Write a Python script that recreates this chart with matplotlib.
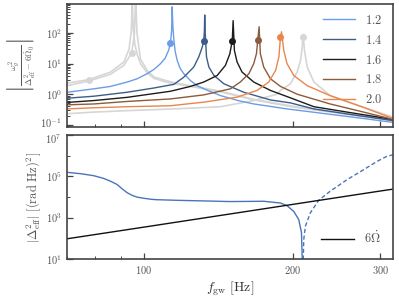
import numpy as np
import matplotlib
matplotlib.use("Agg")
import matplotlib.pyplot as plt
from matplotlib.transforms import ScaledTranslation

plt.rcParams['font.family'] = 'serif'
plt.rcParams['font.serif'] = ['cmr10', 'DejaVu Serif']
plt.rcParams['mathtext.fontset'] = 'cm'
plt.rcParams['axes.formatter.use_mathtext'] = True

# ---- top panel: resonance curves ----
labels = ['1.2', '1.4', '1.6', '1.8', '2.0']
colors = ['#6b9de6', '#3d5d88', '#1c1c1c', '#8c5a3c', '#e8864c']

f12 = [70.2, 79.4, 85.8, 92.7, 97.1, 101.7, 105, 108.2, 110.5, 112.3, 113.3, 113.9, 114.2,
       114.6, 115.1, 115.8, 116.9, 118.5, 120.5, 124.3, 128.2, 135, 142.9, 155, 166.7, 180,
       194.5, 215, 237.6, 270, 318]
v12 = [1.16, 1.5, 1.8, 2.5, 3.2, 4.7, 6.5, 10, 15, 27, 46, 120, 720,
       150, 60, 25, 12.7, 7, 4.7, 2.8, 1.9, 1.3, 0.9, 0.62, 0.48, 0.4,
       0.33, 0.27, 0.22, 0.17, 0.12]

f14 = [70.2, 79.4, 92.7, 105, 115.1, 120.5, 126.2, 129.2, 131.3, 132.2, 132.6, 132.8,
       133.1, 133.9, 135.4, 138.6, 145.1, 159.1, 180.1, 197.6, 220.4, 260, 318]
v14 = [0.74, 0.86, 1.16, 1.6, 2.1, 3.6, 7.7, 16.6, 35, 54, 120, 390,
       100, 16.6, 7.7, 4.1, 2.2, 1.16, 0.65, 0.52, 0.33, 0.22, 0.137]

f16 = [70.2, 79.4, 92.7, 113.3, 124.3, 132.2, 140.7, 146.2, 149.2, 150.9, 151.5,
       152.4, 154.3, 157.9, 166.7, 180.1, 196, 220.4, 257, 318]
v16 = [0.54, 0.62, 0.79, 1.25, 1.8, 2.5, 4.1, 8.8, 21, 56, 255,
       27, 11.3, 5.3, 2.5, 1.33, 0.8, 0.39, 0.26, 0.15]

f18 = [70.2, 79.4, 92.7, 113.3, 132.2, 149.6, 156.6, 163, 166.7, 168.8, 169.8, 170.9,
       171.9, 174.6, 180.1, 188.7, 203.9, 237.6, 277.5, 318]
v18 = [0.45, 0.48, 0.58, 0.7, 0.95, 1.5, 2.5, 4.7, 10, 21, 58, 161,
       21, 7.7, 3.2, 1.8, 1.0, 0.48, 0.26, 0.15]

f20 = [70.2, 79.4, 92.7, 113.3, 132.2, 154.3, 169.3, 178.7, 184.5, 187.3, 188.7, 189.6,
       191.6, 194.5, 200.7, 213.6, 237.6, 277.5, 318]
v20 = [0.33, 0.36, 0.39, 0.42, 0.55, 0.8, 1.33, 2.5, 6, 16.6, 72, 110,
       27.5, 10, 4.1, 1.9, 0.9, 0.37, 0.16]

# grey curves (not in legend)
fga = [70.2, 77.6, 85.8, 91.3, 93.5, 94.5, 94.9, 95.3, 96, 97.1, 98.6, 101.7, 104.9,
       110, 115.1, 124.3, 142.9, 166.7, 200.7, 257, 318]
vga = [2.3, 3.0, 5.3, 11.3, 30, 120, 1500, 150, 45, 20, 10, 5, 3.3,
       2.6, 2.2, 1.8, 1.2, 0.65, 0.38, 0.22, 0.14]
fgb = [70.2, 77.6, 85.8, 91.3, 94.6, 95.8, 96.4, 97, 98.6, 101.7, 104.9, 110, 115.1,
       124.3, 142.9, 166.7, 200.7, 257, 318]
vgb = [1.9, 2.7, 4.5, 8.8, 22, 80, 1500, 100, 14, 6, 3.7, 2.9, 2.4,
       1.9, 1.25, 0.68, 0.4, 0.23, 0.14]
fgc = [70.2, 79.4, 92.7, 115.1, 142.9, 166.7, 185.8, 188.7, 197.6, 203.9, 207.1, 208.7,
       209.3, 209.6, 210.9, 213.6, 220.4, 237.6, 277.5, 318]
vgc = [0.23, 0.26, 0.29, 0.33, 0.39, 0.62, 1.0, 1.33, 2.2, 5.3, 12.8, 35,
       75, 90, 27.5, 7.7, 2.5, 0.9, 0.37, 0.18]

# markers on curves
dot_f = [113.3, 132.2, 150.9, 169.8, 188.7]
dot_v = [46, 54, 56, 58, 72]
grey_dot_f = [77.6, 94.6, 209.3]
grey_dot_v = [3.0, 22, 75]

# ---- bottom panel ----
fdel = [70.2, 75, 79.4, 83, 85.8, 88.5, 90.5, 92.7, 95, 97.1, 100, 103.3, 106, 116.9,
        149.6, 174.6, 188.7, 194.5, 200.7, 205.4, 208, 209.3]
vdel = [1.56e5, 1.32e5, 1.07e5, 8.0e4, 5.8e4, 4.0e4, 2.5e4, 1.6e4, 1.18e4, 9.8e3, 8.7e3,
        7.8e3, 7.4e3, 6.9e3, 6.0e3, 6.2e3, 5.1e3, 3.8e3, 2.0e3, 800, 190, 1]
fdel_neg = [209.3, 210.2, 211.8, 216.7, 225.3, 237.6, 257, 277.5, 295, 309, 319]
vdel_neg = [1, 87, 380, 1.7e3, 6.9e3, 1.9e4, 6.9e4, 2.1e5, 5.2e5, 9.3e5, 1.12e6]

fom = [70, 100, 200, 300, 320]
vom = [94, 345, 4400, 19500, 24500]

grey = '#d6d6d6'
tick_col = '#555555'

fig = plt.figure(figsize=(3.99, 2.98), dpi=100)
ax1 = fig.add_axes([0.167, 0.574, 0.818, 0.413])
ax2 = fig.add_axes([0.167, 0.131, 0.818, 0.416])

for fx, vx in [(fga, vga), (fgb, vgb), (fgc, vgc)]:
    ax1.plot(fx, vx, color=grey, lw=1.2)
ax1.plot(grey_dot_f, grey_dot_v, 'o', color=grey, ms=4)

curves = [(f12, v12), (f14, v14), (f16, v16), (f18, v18), (f20, v20)]
for (fx, vx), c, lab in zip(curves, colors, labels):
    ax1.plot(fx, vx, color=c, lw=1.0, label='$' + lab + '$')
for fd, vd, c in zip(dot_f, dot_v, colors):
    ax1.plot(fd, vd, 'o', color=c, ms=4)

ax2.plot(fdel, vdel, color='#4a74ba', lw=1.0)
ax2.plot(fdel_neg, vdel_neg, color='#4a74ba', lw=1.0, ls='--', dashes=(3, 1.8))
ax2.plot(fom, vom, color='#111111', lw=1.0, label=r'$6\dot{\Omega}$')

for ax in (ax1, ax2):
    ax.set_xscale('log')
    ax.set_yscale('log')
    ax.set_xlim(70, 318)
    ax.set_xticks([100, 200, 300])
    ax.set_xticks([70, 80, 90], minor=True)
    ax.tick_params(which='both', direction='in', colors='#444444', labelcolor=tick_col,
                   labelsize=7.5)
    ax.tick_params(which='major', length=4, width=0.9)
    ax.tick_params(which='minor', length=2, width=0.7)
    for s in ax.spines.values():
        s.set_color('#444444')
        s.set_linewidth(1.2)

ax1.set_ylim(0.085, 900)
ax1.set_yticks([0.1, 1, 10, 100])
ax1.set_yticklabels([r'$10^{-1}$', r'$10^{0}$', r'$10^{1}$', r'$10^{2}$'])
ax1.set_xticklabels([])
ax1.set_xticklabels([], minor=True)
ax1.set_ylabel(r'$\left|\frac{\omega_g^2}{\Delta_{\rm eff}^2 - 6\dot{\Omega}_0}\right|$',
               fontsize=9, color='#555555', labelpad=2)
ax1.legend(loc='upper right', frameon=False, fontsize=9, handlelength=2.6,
           labelspacing=0.55, borderaxespad=0.4, labelcolor='#555555')

ax2.set_ylim(10, 1e7)
ax2.set_yticks([10, 1e3, 1e5, 1e7])
ax2.set_yticks([100, 1e4, 1e6], minor=True)
ax2.set_yticklabels([r'$10^{1}$', r'$10^{3}$', r'$10^{5}$', r'$10^{7}$'])
ax2.set_yticklabels([], minor=True)
ax2.set_xticklabels([r'$100$', r'$200$', r'$300$'])
ax2.set_xticklabels([], minor=True)
ax2.set_ylabel(r'$|\Delta^2_{\rm eff}|\ [({\rm rad\ Hz})^2]$', fontsize=9,
               color='#555555', labelpad=2)
ax2.set_xlabel(r'$f_{\rm gw}\ [{\rm Hz}]$', fontsize=10, color='#333333', labelpad=3)
ax2.legend(loc='lower right', frameon=False, fontsize=9, handlelength=2.6,
           borderaxespad=0.6, labelcolor='#555555')

# nudge the two crowded tick labels apart a little
lab_top = ax2.get_yticklabels()[-1]
lab_top.set_transform(lab_top.get_transform() + ScaledTranslation(0, -2 / 72, fig.dpi_scale_trans))
lab_bot = ax1.get_yticklabels()[0]
lab_bot.set_transform(lab_bot.get_transform() + ScaledTranslation(0, 1.5 / 72, fig.dpi_scale_trans))

fig.savefig('out.png', dpi=100)
